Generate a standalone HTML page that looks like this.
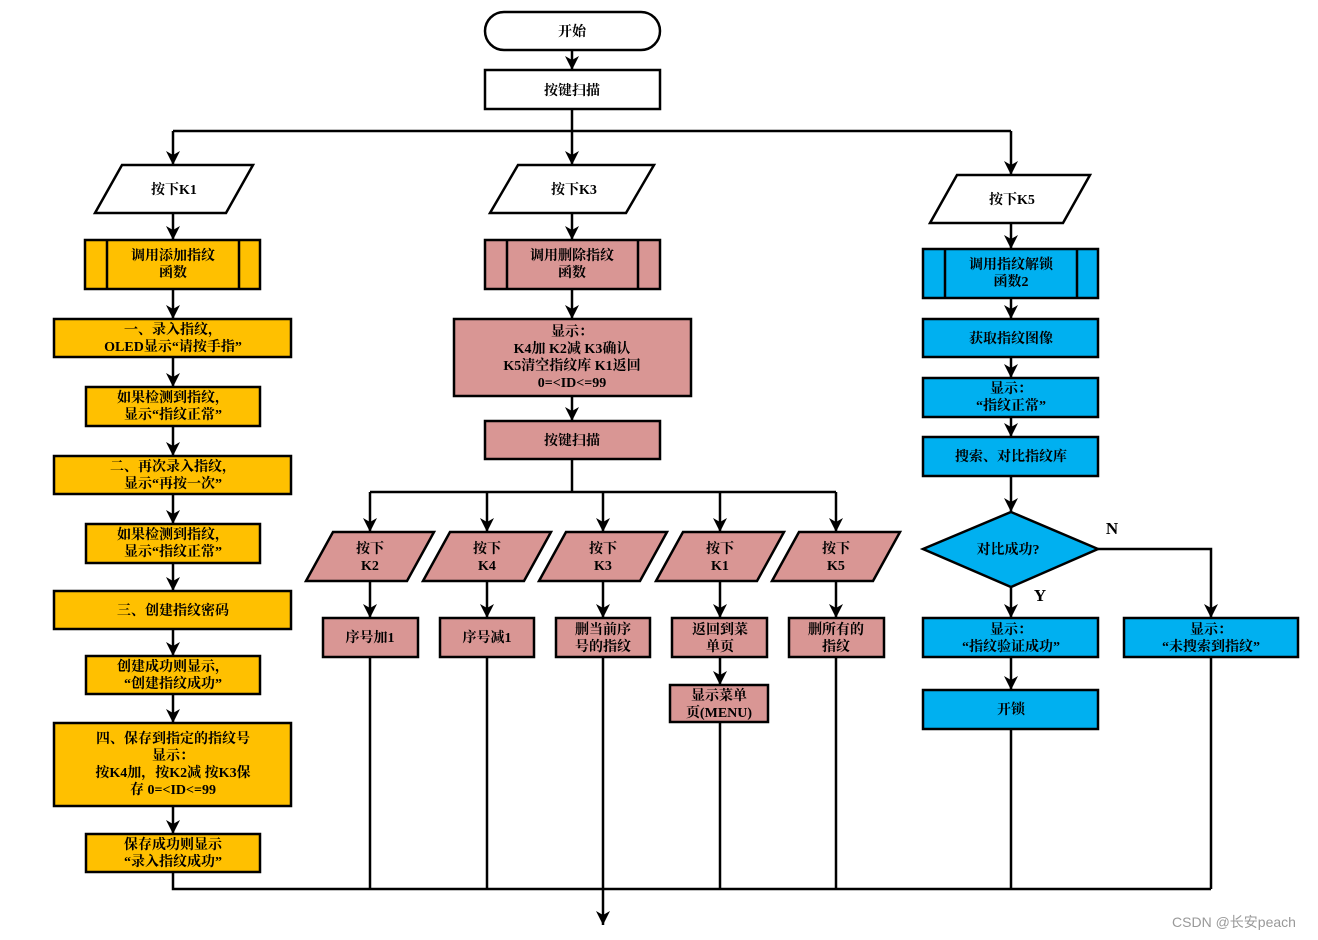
<!DOCTYPE html>
<html><head><meta charset="utf-8"><style>
html,body{margin:0;padding:0;background:#fff;}
svg{display:block;}
text{font-family:"Liberation Serif","Noto Serif CJK SC",serif;font-weight:bold;font-size:14px;fill:#000;text-anchor:middle;}
.w{fill:#fff;stroke:#000;stroke-width:2.5}
.y{fill:#FFC000;stroke:#000;stroke-width:2.5}
.p{fill:#D99694;stroke:#000;stroke-width:2.5}
.b{fill:#00B0F0;stroke:#000;stroke-width:2.5}
.l{stroke:#000;stroke-width:2.5;fill:none}
</style></head><body>
<svg width="1318" height="940" viewBox="0 0 1318 940" xmlns="http://www.w3.org/2000/svg">
<defs><marker id="a" markerWidth="10" markerHeight="10" refX="5" refY="9" orient="auto" markerUnits="userSpaceOnUse" viewBox="0 0 10 10"><path d="M0,0 L10,0 L5,10 z" fill="#000" transform="rotate(-90 5 5)"/></marker>
<marker id="m" markerWidth="14" markerHeight="14" refX="14" refY="7" orient="auto" markerUnits="userSpaceOnUse"><path d="M0,0 L14,7 L0,14 L4,7 z" fill="#000"/></marker></defs>

<!-- connectors -->
<g class="l">
<path d="M572,50 V70" marker-end="url(#m)"/>
<path d="M572,109 V165" marker-end="url(#m)"/>
<path d="M173,131 H1011"/>
<path d="M173,131 V165" marker-end="url(#m)"/>
<path d="M1011,131 V175" marker-end="url(#m)"/>
<path d="M173,213 V240" marker-end="url(#m)"/>
<path d="M173,289 V319" marker-end="url(#m)"/>
<path d="M173,357 V387" marker-end="url(#m)"/>
<path d="M173,426 V456" marker-end="url(#m)"/>
<path d="M173,494 V524" marker-end="url(#m)"/>
<path d="M173,563 V591" marker-end="url(#m)"/>
<path d="M173,629 V656" marker-end="url(#m)"/>
<path d="M173,694 V723" marker-end="url(#m)"/>
<path d="M173,806 V834" marker-end="url(#m)"/>
<path d="M173,872 V889 H1211"/>
<path d="M603,889 V925" marker-end="url(#m)"/>
<path d="M572,213 V240" marker-end="url(#m)"/>
<path d="M572,289 V319" marker-end="url(#m)"/>
<path d="M572,396 V421" marker-end="url(#m)"/>
<path d="M572,459 V492"/>
<path d="M370,492 H836"/>
<path d="M370,492 V532" marker-end="url(#m)"/>
<path d="M487,492 V532" marker-end="url(#m)"/>
<path d="M603,492 V532" marker-end="url(#m)"/>
<path d="M720,492 V532" marker-end="url(#m)"/>
<path d="M836,492 V532" marker-end="url(#m)"/>
<path d="M370,581 V618" marker-end="url(#m)"/>
<path d="M487,581 V618" marker-end="url(#m)"/>
<path d="M603,581 V618" marker-end="url(#m)"/>
<path d="M720,581 V618" marker-end="url(#m)"/>
<path d="M836,581 V618" marker-end="url(#m)"/>
<path d="M370,657 V889"/>
<path d="M487,657 V889"/>
<path d="M603,657 V889"/>
<path d="M720,657 V685" marker-end="url(#m)"/>
<path d="M720,722 V889"/>
<path d="M836,657 V889"/>
<path d="M1011,223 V249" marker-end="url(#m)"/>
<path d="M1011,298 V319" marker-end="url(#m)"/>
<path d="M1011,357 V378" marker-end="url(#m)"/>
<path d="M1011,417 V437" marker-end="url(#m)"/>
<path d="M1011,476 V512" marker-end="url(#m)"/>
<path d="M1011,587 V618" marker-end="url(#m)"/>
<path d="M1098,549 H1211 V618" marker-end="url(#m)"/>
<path d="M1011,657 V690" marker-end="url(#m)"/>
<path d="M1011,729 V889"/>
<path d="M1211,657 V889"/>
</g>

<!-- top -->
<rect class="w" x="485" y="12" width="175" height="38" rx="19"/><text x="572" y="36">开始</text>
<rect class="w" x="485" y="70" width="175" height="39"/><text x="572" y="95">按键扫描</text>

<!-- parallelograms top -->
<polygon class="w" points="122,165 253,165 226,213 95,213"/><text x="174" y="194">按下K1</text>
<polygon class="w" points="518,165 654,165 626,213 490,213"/><text x="574" y="194">按下K3</text>
<polygon class="w" points="957,175 1090,175 1063,223 930,223"/><text x="1012" y="204">按下K5</text>

<!-- left column -->
<rect class="y" x="85" y="240" width="175" height="49"/><line class="l" x1="107" y1="240" x2="107" y2="289"/><line class="l" x1="239" y1="240" x2="239" y2="289"/>
<text x="173" y="260">调用添加指纹</text><text x="173" y="277">函数</text>
<rect class="y" x="54" y="319" width="237" height="38"/><text x="173" y="334">一、录入指纹，</text><text x="173" y="351">OLED显示“请按手指”</text>
<rect class="y" x="86" y="387" width="174" height="39"/><text x="173" y="402">如果检测到指纹，</text><text x="173" y="419">显示“指纹正常”</text>
<rect class="y" x="54" y="456" width="237" height="38"/><text x="173" y="471">二、再次录入指纹，</text><text x="173" y="488">显示“再按一次”</text>
<rect class="y" x="86" y="524" width="174" height="39"/><text x="173" y="539">如果检测到指纹，</text><text x="173" y="556">显示“指纹正常”</text>
<rect class="y" x="54" y="591" width="237" height="38"/><text x="173" y="615">三、创建指纹密码</text>
<rect class="y" x="86" y="656" width="174" height="38"/><text x="173" y="671">创建成功则显示，</text><text x="173" y="688">“创建指纹成功”</text>
<rect class="y" x="54" y="723" width="237" height="83"/><text x="173" y="743">四、保存到指定的指纹号</text><text x="173" y="760">显示：</text><text x="173" y="777">按K4加，按K2减 按K3保</text><text x="173" y="794">存 0=&lt;ID&lt;=99</text>
<rect class="y" x="86" y="834" width="174" height="38"/><text x="173" y="849">保存成功则显示</text><text x="173" y="866">“录入指纹成功”</text>

<!-- middle column -->
<rect class="p" x="485" y="240" width="175" height="49"/><line class="l" x1="507" y1="240" x2="507" y2="289"/><line class="l" x1="638" y1="240" x2="638" y2="289"/>
<text x="572" y="260">调用删除指纹</text><text x="572" y="277">函数</text>
<rect class="p" x="454" y="319" width="237" height="77"/><text x="572" y="336">显示：</text><text x="572" y="353">K4加 K2减 K3确认</text><text x="572" y="370">K5清空指纹库 K1返回</text><text x="572" y="387">0=&lt;ID&lt;=99</text>
<rect class="p" x="485" y="421" width="175" height="38"/><text x="572" y="445">按键扫描</text>

<polygon class="p" points="333,532 434,532 407,581 306,581"/><text x="370" y="553">按下</text><text x="370" y="570">K2</text>
<polygon class="p" points="450,532 551,532 524,581 423,581"/><text x="487" y="553">按下</text><text x="487" y="570">K4</text>
<polygon class="p" points="566,532 667,532 640,581 539,581"/><text x="603" y="553">按下</text><text x="603" y="570">K3</text>
<polygon class="p" points="683,532 784,532 757,581 656,581"/><text x="720" y="553">按下</text><text x="720" y="570">K1</text>
<polygon class="p" points="799,532 900,532 873,581 772,581"/><text x="836" y="553">按下</text><text x="836" y="570">K5</text>

<rect class="p" x="323" y="618" width="95" height="39"/><text x="370" y="642">序号加1</text>
<rect class="p" x="440" y="618" width="94" height="39"/><text x="487" y="642">序号减1</text>
<rect class="p" x="556" y="618" width="94" height="39"/><text x="603" y="634">删当前序</text><text x="603" y="651">号的指纹</text>
<rect class="p" x="672" y="618" width="95" height="39"/><text x="720" y="634">返回到菜</text><text x="720" y="651">单页</text>
<rect class="p" x="789" y="618" width="95" height="39"/><text x="836" y="634">删所有的</text><text x="836" y="651">指纹</text>
<rect class="p" x="670" y="685" width="98" height="37"/><text x="719" y="700">显示菜单</text><text x="719" y="717">页(MENU)</text>

<!-- right column -->
<rect class="b" x="923" y="249" width="175" height="49"/><line class="l" x1="945" y1="249" x2="945" y2="298"/><line class="l" x1="1077" y1="249" x2="1077" y2="298"/>
<text x="1011" y="269">调用指纹解锁</text><text x="1011" y="286">函数2</text>
<rect class="b" x="923" y="319" width="175" height="38"/><text x="1011" y="343">获取指纹图像</text>
<rect class="b" x="923" y="378" width="175" height="39"/><text x="1011" y="393">显示：</text><text x="1011" y="410">“指纹正常”</text>
<rect class="b" x="923" y="437" width="175" height="39"/><text x="1011" y="461">搜索、对比指纹库</text>
<polygon class="b" points="1011,512 1098,549 1011,587 923,549"/><text x="1008" y="554">对比成功?</text>
<text x="1112" y="534" style="font-size:17px">N</text>
<text x="1040" y="601" style="font-size:17px">Y</text>
<rect class="b" x="923" y="618" width="175" height="39"/><text x="1011" y="634">显示：</text><text x="1011" y="651">“指纹验证成功”</text>
<rect class="b" x="1124" y="618" width="174" height="39"/><text x="1211" y="634">显示：</text><text x="1211" y="651">“未搜索到指纹”</text>
<rect class="b" x="923" y="690" width="175" height="39"/><text x="1011" y="714">开锁</text>

<text x="1234" y="927" style="font-family:'Liberation Sans','Noto Sans CJK SC',sans-serif;font-weight:normal;font-size:14px;fill:#999">CSDN @长安peach</text>
</svg>
</body></html>
